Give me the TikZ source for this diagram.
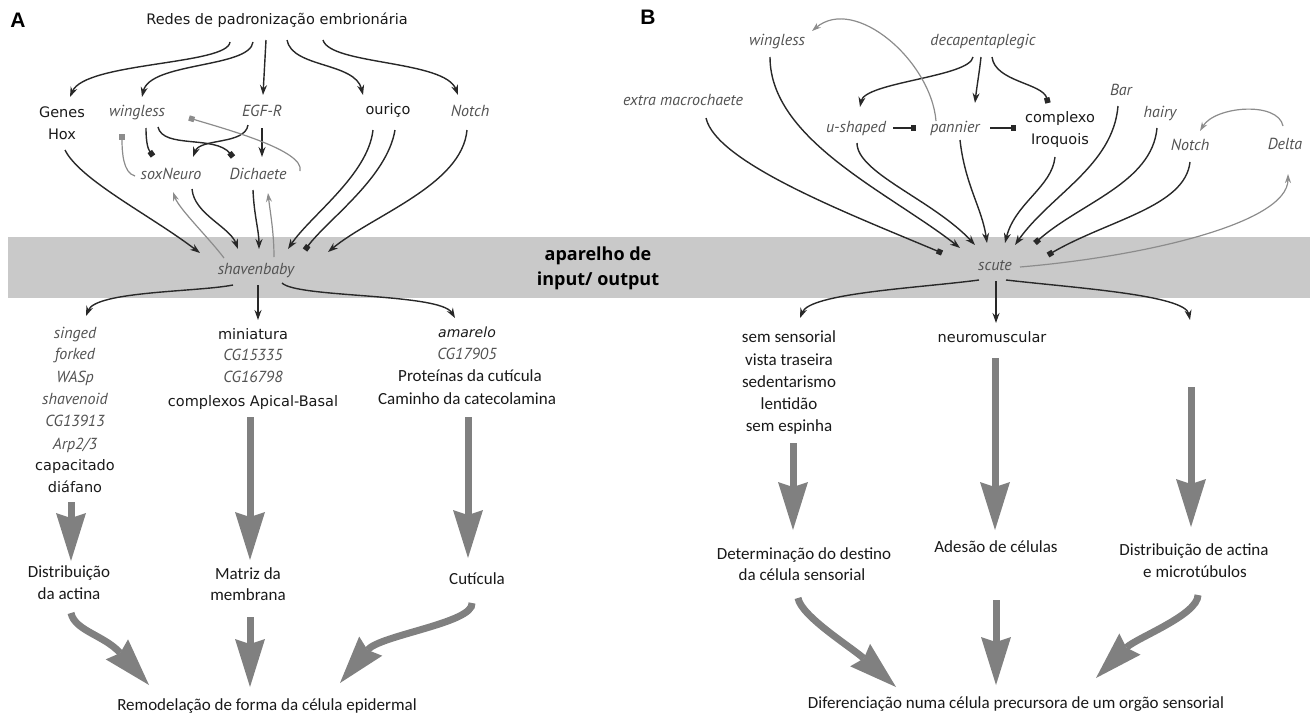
\documentclass[tikz,border=0pt]{standalone}
\usepackage{fontspec}
\usetikzlibrary{arrows.meta}
\newfontfamily\vdfont{DejaVu Sans}
\newfontfamily\clfont{Carlito}
\newfontfamily\gnfont{PT Sans}
\newfontfamily\bdfont{Open Sans}
\newfontfamily\lbfont{Liberation Sans}
\definecolor{bandgray}{RGB}{201,201,201}
\definecolor{biggray}{RGB}{128,128,128}
\definecolor{thingray}{RGB}{140,140,140}
\definecolor{genegray}{RGB}{82,82,82}
\definecolor{linedark}{RGB}{40,40,40}
\tikzset{
	vd/.style={anchor=mid, inner sep=0pt, text=black!90, font=\vdfont\fontsize{14.5}{22}\selectfont},
	cl/.style={anchor=mid, inner sep=0pt, text=black!90, font=\clfont\fontsize{17}{22}\selectfont},
	gn/.style={anchor=mid, inner sep=0pt, text=genegray, font=\gnfont\itshape\fontsize{16}{22}\selectfont},
	bd/.style={anchor=mid, inner sep=0pt, text=black, font=\bdfont\bfseries\fontsize{18}{25}\selectfont},
	lbl/.style={anchor=mid, inner sep=0pt, font=\lbfont\bfseries\fontsize{21}{24}\selectfont},
	act/.style={draw=linedark, line width=1.4pt, -{Stealth[length=10pt,width=7pt]}},
	inh/.style={draw=linedark, line width=1.4pt, -{Square[length=5.5pt,width=5.5pt]}},
	gact/.style={draw=thingray, line width=1.2pt, -{Stealth[length=9pt,width=6pt]}},
	ginh/.style={draw=thingray, line width=1.2pt, -{Square[length=5.5pt,width=5.5pt]}},
	bigarrow/.style={draw=biggray, line width=7pt, -{Stealth[length=48pt,width=30pt,inset=5pt,line width=0pt]}},
}
\begin{document}
\begin{tikzpicture}[x=1pt,y=-1pt]
	\useasboundingbox (0,0) rectangle (1314,720);
	\fill[bandgray] (8,237) rectangle (1310,298);
	
	%%%%% PANEL A %%%%%
	\node[lbl] (lblA) at (18,25) {A};
	\node[vd] (redes) at (277,22) {Redes de padronização embrionária};
	\node[vd] (hox1) at (62,115) {Genes};
	\node[vd] (hox2) at (62,137) {Hox};
	\node[gn] (wgA) at (137,114) {wingless};
	\node[gn] (egfr) at (262,114) {EGF-R};
	\node[vd] (ourico) at (388,112) {ouriço};
	\node[gn] (notchA) at (470,114) {Notch};
	\node[gn] (sox) at (171,177) {soxNeuro};
	\node[gn] (dich) at (258,177) {Dichaete};
	\node[gn] (sb) at (256,272) {shavenbaby};
	\node[bd] (app1) at (598,258) {aparelho de};
	\node[bd] (app2) at (598,283) {input/ output};
	
	\draw[act] ([shift={(-47,20)}]redes.mid) .. controls +(-2,23) and +(15,-35) .. ([shift={(8,-18)}]hox1.mid);
	\draw[act] ([shift={(-24,20)}]redes.mid) .. controls +(-3,26) and +(8,-35) .. ([shift={(5,-17)}]wgA.mid);
	\draw[act] ([shift={(-11,18)}]redes.mid) -- ([shift={(1,-19)}]egfr.mid);
	\draw[act] ([shift={(10,18)}]redes.mid) .. controls +(5,28) and +(-8,-33) .. ([shift={(-25,-17)}]ourico.mid);
	\draw[act] ([shift={(46,18)}]redes.mid) .. controls +(7,25) and +(-13,-35) .. ([shift={(-12,-19)}]notchA.mid);
	
	\draw[act] ([shift={(-14,11)}]egfr.mid) .. controls +(-3,20) and +(7,-19) .. ([shift={(22,-20)}]sox.mid);
	\draw[act] ([shift={(0,14)}]egfr.mid) -- ([shift={(4,-20)}]dich.mid);
	\draw[inh] ([shift={(9,14)}]wgA.mid) .. controls +(0,15) and +(-5,-7) .. ([shift={(-18,-21)}]sox.mid);
	\draw[inh] ([shift={(21,13)}]wgA.mid) .. controls +(5,22) and +(-18,-22) .. ([shift={(-25,-20)}]dich.mid);
	\draw[ginh] ([shift={(42,-6)}]dich.mid) .. controls +(5,-20) and +(40,12) .. ([shift={(52,4)}]wgA.mid);
	\draw[ginh] ([shift={(-36,-1)}]sox.mid) .. controls +(-12,-3) and +(0,18) .. ([shift={(-15,20)}]wgA.mid);
	
	\draw[gact] ([shift={(-32,-14)}]sb.mid) .. controls +(-15,-20) and +(6,17) .. ([shift={(2,15)}]sox.mid);
	\draw[gact] ([shift={(18,-15)}]sb.mid) .. controls +(0,-25) and +(2,18) .. ([shift={(10,16)}]dich.mid);
	\draw[act] ([shift={(3,13)}]hox2.mid) .. controls +(15,30) and +(-50,-38) .. ([shift={(-56,-19)}]sb.mid);
	\draw[act] ([shift={(21,12)}]sox.mid) .. controls +(2,25) and +(-8,-22) .. ([shift={(-18,-23)}]sb.mid);
	\draw[act] ([shift={(-5,13)}]dich.mid) .. controls +(1,25) and +(0,-18) .. ([shift={(3,-23)}]sb.mid);
	\draw[act] ([shift={(-15,18)}]ourico.mid) .. controls +(-5,45) and +(22,-33) .. ([shift={(32,-23)}]sb.mid);
	\draw[inh] ([shift={(7,18)}]ourico.mid) .. controls +(-8,48) and +(22,-30) .. ([shift={(49,-22)}]sb.mid);
	\draw[act] ([shift={(-3,16)}]notchA.mid) .. controls +(-5,55) and +(45,-37) .. ([shift={(72,-20)}]sb.mid);
	
	% outputs of shavenbaby
	\node[gn] (sing) at (75,336) {singed};
	\node[gn] (fork) at (75,357) {forked};
	\node[gn] (wasp) at (75,380) {WASp};
	\node[gn] (shvn) at (75,402) {shavenoid};
	\node[gn] (cg139) at (75,424) {CG13913};
	\node[gn] (arp) at (75,447) {Arp2/3};
	\node[vd] (capa) at (75,468) {capacitado};
	\node[vd] (diaf) at (75,490) {diáfano};
	
	\node[vd] (mini) at (253,337) {miniatura};
	\node[gn] (cg153) at (253,358) {CG15335};
	\node[gn] (cg167) at (253,380) {CG16798};
	\node[vd] (apb) at (253,404) {complexos Apical-Basal};
	
	\node[vd, font=\vdfont\itshape\fontsize{14}{22}\selectfont] (amar) at (467,335) {amarelo};
	\node[gn] (cg179) at (467,357) {CG17905};
	\node[cl] (prot) at (470,379) {Proteínas da cutícula};
	\node[cl] (cami) at (467,402) {Caminho da catecolamina};
	
	\draw[act] ([shift={(-23,13)}]sb.mid) .. controls +(-35,7) and +(10,-25) .. ([shift={(11,-20)}]sing.mid);
	\draw[act] ([shift={(2,13)}]sb.mid) -- ([shift={(5,-17)}]mini.mid);
	\draw[act] ([shift={(26,11)}]sb.mid) .. controls +(15,15) and +(-15,-25) .. ([shift={(-12,-17)}]amar.mid);
	
	\node[cl] (dist1) at (69,575) {Distribuição};
	\node[cl] (dist2) at (69,597) {da actina};
	\node[cl] (mat1) at (248,577) {Matriz da};
	\node[cl] (mat2) at (248,598) {membrana};
	\node[cl] (cut) at (477,582) {Cutícula};
	\node[cl] (rem) at (267,708) {Remodelação de forma da célula epidermal};
	
	\draw[bigarrow] ([shift={(-4,12)}]diaf.mid) -- ([shift={(2,-14)}]dist1.mid);
	\draw[bigarrow] ([shift={(-3,13)}]apb.mid) -- ([shift={(2,-17)}]mat1.mid);
	\draw[bigarrow] ([shift={(1,15)}]cami.mid) -- ([shift={(-9,-24)}]cut.mid);
	\draw[bigarrow] ([shift={(2,16)}]dist2.mid) .. controls +(4,18) and +(-45,-50) .. ([shift={(-118,-23)}]rem.mid);
	\draw[bigarrow] ([shift={(2,19)}]mat2.mid) -- ([shift={(-17,-21)}]rem.mid);
	\draw[bigarrow] ([shift={(-5,21)}]cut.mid) .. controls +(2,20) and +(40,-48) .. ([shift={(73,-25)}]rem.mid);
	
	%%%%% PANEL B %%%%%
	\node[lbl] (lblB) at (648,22) {B};
	\node[gn] (wgB) at (777,43) {wingless};
	\node[gn] (dpp) at (983,43) {decapentaplegic};
	\node[gn] (exm) at (683,103) {extra macrochaete};
	\node[gn] (ush) at (856,130) {u-shaped};
	\node[gn] (pnr) at (955,130) {pannier};
	\node[vd] (iro1) at (1060,120) {complexo};
	\node[vd] (iro2) at (1060,142) {Iroquois};
	\node[gn] (bar) at (1121,93) {Bar};
	\node[gn] (hairy) at (1160,115) {hairy};
	\node[gn] (notchB) at (1190,148) {Notch};
	\node[gn] (delta) at (1285,147) {Delta};
	\node[gn] (scute) at (995,268) {scute};
	
	\draw[act] ([shift={(-10,14)}]dpp.mid) .. controls +(-3,20) and +(5,-25) .. ([shift={(4,-23)}]ush.mid);
	\draw[act] ([shift={(-2,14)}]dpp.mid) .. controls +(-2,18) and +(2,-18) .. ([shift={(20,-27)}]pnr.mid);
	\draw[inh] ([shift={(9,14)}]dpp.mid) .. controls +(3,25) and +(-5,-20) .. ([shift={(-12,-17)}]iro1.mid);
	\draw[inh] ([shift={(37,-2)}]ush.mid) -- ([shift={(-39,-2)}]pnr.mid);
	\draw[inh] ([shift={(35,-2)}]pnr.mid) -- ([shift={(-44,8)}]iro1.mid);
	\draw[gact] ([shift={(-19,-9)}]pnr.mid) .. controls +(-5,-60) and +(43,-36) .. ([shift={(35,-12)}]wgB.mid);
	\draw[gact] ([shift={(-2,-21)}]delta.mid) .. controls +(-5,-25) and +(15,-25) .. ([shift={(10,-17)}]notchB.mid);
	
	\draw[inh] ([shift={(23,15)}]exm.mid) .. controls +(10,45) and +(-90,-38) .. ([shift={(-53,-15)}]scute.mid);
	\draw[act] ([shift={(-7,14)}]wgB.mid) .. controls +(0,83) and +(-70,-55) .. ([shift={(-35,-20)}]scute.mid);
	\draw[act] ([shift={(1,13)}]ush.mid) .. controls +(0,30) and +(-42,-45) .. ([shift={(-20,-23)}]scute.mid);
	\draw[act] ([shift={(5,10)}]pnr.mid) .. controls +(5,45) and +(-5,-35) .. ([shift={(-8,-25)}]scute.mid);
	\draw[act] ([shift={(-5,15)}]iro2.mid) .. controls +(-3,30) and +(10,-40) .. ([shift={(10,-25)}]scute.mid);
	\draw[act] ([shift={(-3,13)}]bar.mid) .. controls +(-5,60) and +(35,-50) .. ([shift={(20,-23)}]scute.mid);
	\draw[inh] ([shift={(-3,13)}]hairy.mid) .. controls +(-5,55) and +(45,-40) .. ([shift={(40,-25)}]scute.mid);
	\draw[inh] ([shift={(0,14)}]notchB.mid) .. controls +(-5,45) and +(60,-35) .. ([shift={(53,-13)}]scute.mid);
	\draw[gact] ([shift={(25,-1)}]scute.mid) .. controls +(120,-10) and +(0,50) .. ([shift={(3,27)}]delta.mid);
	
	% outputs of scute
	\node[cl] (sem1) at (789,340) {sem sensorial};
	\node[cl] (sem2) at (789,363) {vista traseira};
	\node[cl] (sem3) at (789,385) {sedentarismo};
	\node[cl] (sem4) at (789,407) {lentidão};
	\node[cl] (sem5) at (789,429) {sem espinha};
	\node[vd] (neuro) at (992,340) {neuromuscular};
	\coordinate (outR) at (1190,320);
	\coordinate (bigR) at (1191,387);
	
	\draw[act] ([shift={(-16,12)}]scute.mid) .. controls +(-60,8) and +(10,-25) .. ([shift={(11,-22)}]sem1.mid);
	\draw[act] ([shift={(1,13)}]scute.mid) -- ([shift={(4,-17)}]neuro.mid);
	\draw[act] ([shift={(11,12)}]scute.mid) .. controls +(70,8) and +(-5,-25) .. (outR);
	
	\node[cl] (det1) at (804,557) {Determinação do destino};
	\node[cl] (det2) at (802,578) {da célula sensorial};
	\node[cl] (ades) at (996,550) {Adesão de células};
	\node[cl] (distB1) at (1194,553) {Distribuição de actina};
	\node[cl] (distB2) at (1195,575) {e microtúbulos};
	\node[cl] (dif) at (1016,706) {Diferenciação numa célula precursora de um orgão sensorial};
	
	\draw[bigarrow] ([shift={(4,14)}]sem5.mid) -- ([shift={(-11,-27)}]det1.mid);
	\draw[bigarrow] ([shift={(3,18)}]neuro.mid) -- ([shift={(-1,-20)}]ades.mid);
	\draw[bigarrow] (bigR) -- ([shift={(-3,-26)}]distB1.mid);
	\draw[bigarrow] ([shift={(-4,20)}]det2.mid) .. controls +(3,18) and +(-45,-40) .. ([shift={(-120,-19)}]dif.mid);
	\draw[bigarrow] ([shift={(0,50)}]ades.mid) -- ([shift={(-20,-21)}]dif.mid);
	\draw[bigarrow] ([shift={(3,20)}]distB2.mid) .. controls +(0,20) and +(40,-40) .. ([shift={(80,-28)}]dif.mid);
\end{tikzpicture}
\end{document}
